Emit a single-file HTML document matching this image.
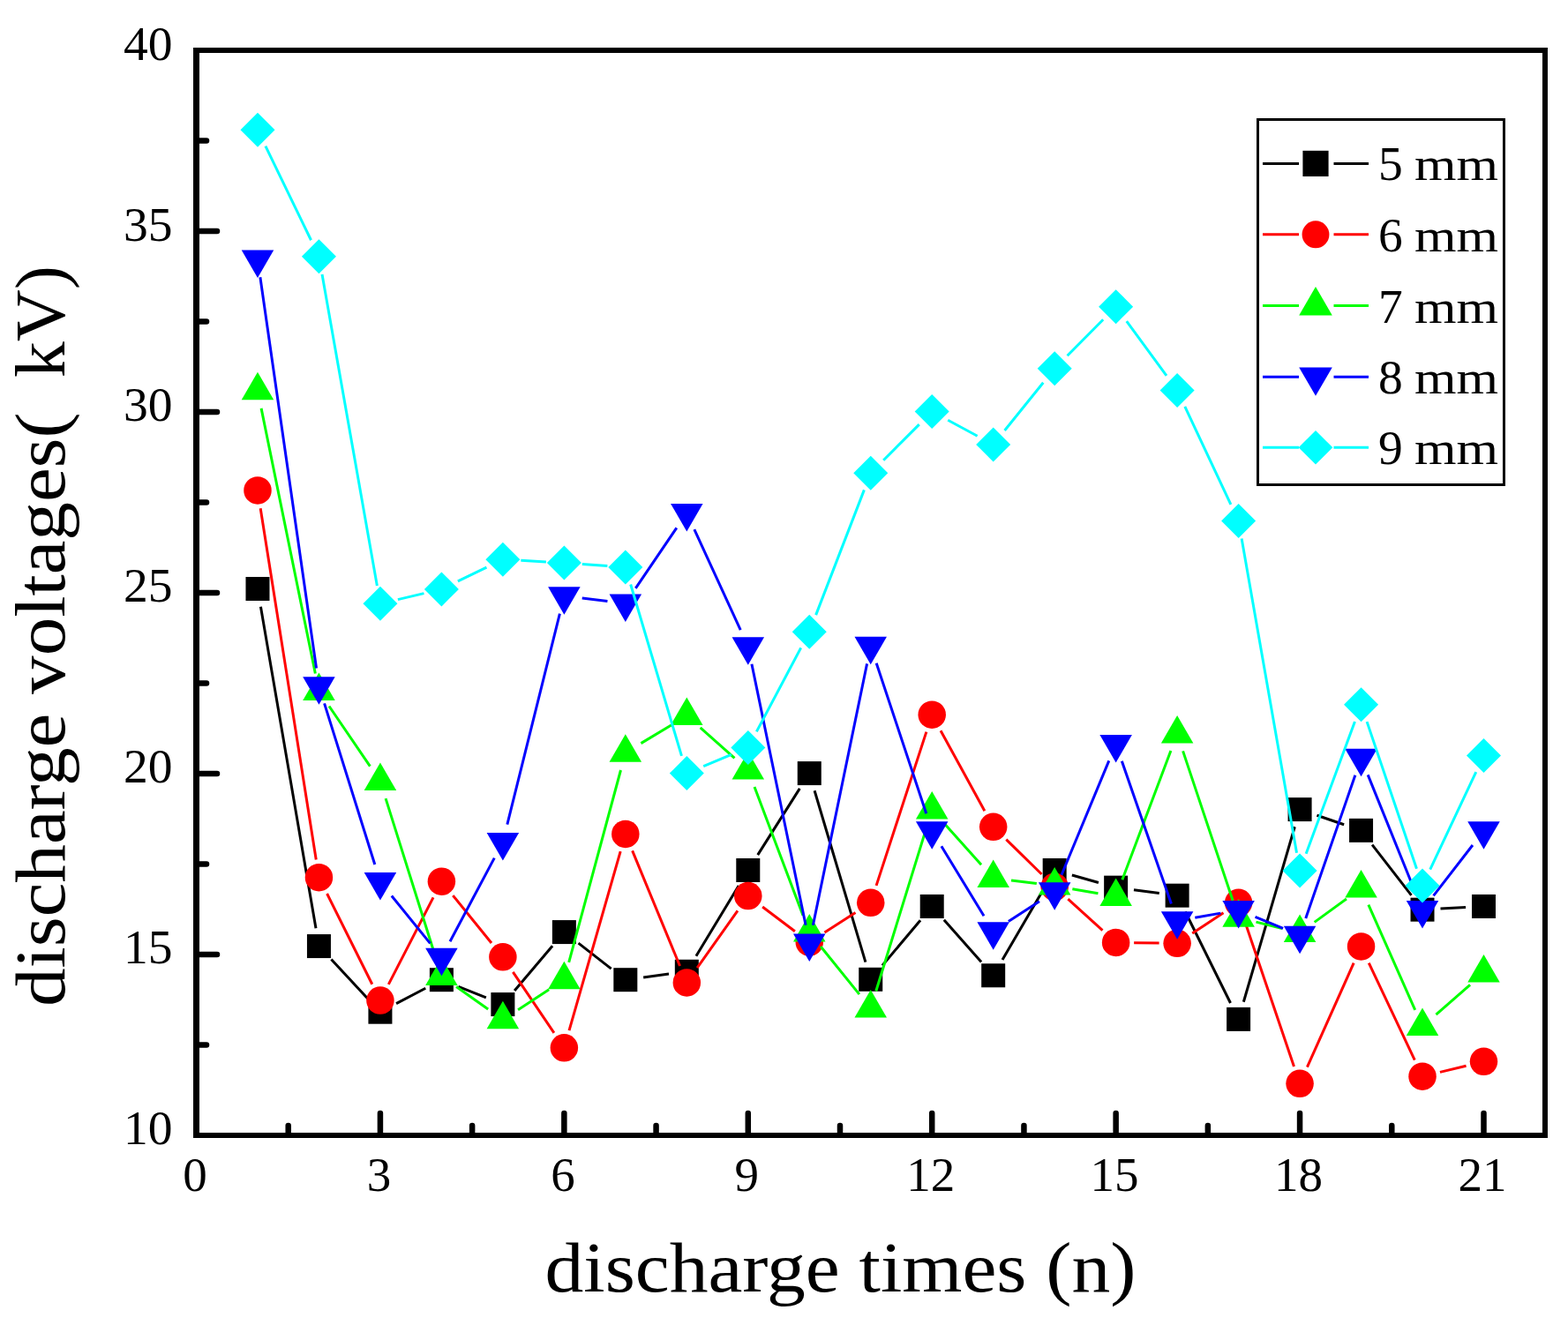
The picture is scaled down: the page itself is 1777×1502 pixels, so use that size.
<!DOCTYPE html>
<html><head><meta charset="utf-8"><title>discharge voltages</title>
<style>html,body{margin:0;padding:0;background:#fff;} svg{display:block;}</style>
</head><body>
<svg width="1777" height="1502" viewBox="0 0 1777 1502">
<rect width="1777" height="1502" fill="#fff"/>
<path d="M295.44,687.69L357.99,1052.37M375.42,1087.57L416.96,1132.19M449.08,1137.66L482.26,1120.23M519.43,1118.33L550.86,1130.95M583.13,1122.94L626.11,1072.22M655.53,1069.18L692.66,1098.10M729.15,1107.94L758.00,1104.03M788.92,1083.73L837.17,1004.01M858.74,969.14L906.31,893.92M923.10,896.24L980.90,1090.64M999.91,1094.58L1043.04,1043.18M1069.82,1042.80L1112.09,1090.45M1136.01,1088.06L1184.85,1004.19M1214.89,992.06L1244.92,1000.56M1284.97,1008.79L1313.79,1012.53M1343.22,1033.54L1394.49,1137.02M1409.34,1135.71L1467.32,937.27M1492.47,924.23L1523.15,934.73M1555.09,957.58L1599.48,1014.95M1632.49,1030.07L1661.03,1028.56" stroke="#000000" stroke-width="3.0" fill="none"/>
<rect x="278.48" y="653.99" width="27.00" height="27.00" fill="#000000"/>
<rect x="347.95" y="1059.07" width="27.00" height="27.00" fill="#000000"/>
<rect x="417.43" y="1133.69" width="27.00" height="27.00" fill="#000000"/>
<rect x="486.90" y="1097.20" width="27.00" height="27.00" fill="#000000"/>
<rect x="556.38" y="1125.08" width="27.00" height="27.00" fill="#000000"/>
<rect x="625.86" y="1043.08" width="27.00" height="27.00" fill="#000000"/>
<rect x="695.33" y="1097.20" width="27.00" height="27.00" fill="#000000"/>
<rect x="764.81" y="1087.77" width="27.00" height="27.00" fill="#000000"/>
<rect x="834.29" y="972.97" width="27.00" height="27.00" fill="#000000"/>
<rect x="903.76" y="863.09" width="27.00" height="27.00" fill="#000000"/>
<rect x="973.24" y="1096.79" width="27.00" height="27.00" fill="#000000"/>
<rect x="1042.71" y="1013.97" width="27.00" height="27.00" fill="#000000"/>
<rect x="1112.19" y="1092.28" width="27.00" height="27.00" fill="#000000"/>
<rect x="1181.67" y="972.97" width="27.00" height="27.00" fill="#000000"/>
<rect x="1251.14" y="992.65" width="27.00" height="27.00" fill="#000000"/>
<rect x="1320.62" y="1001.67" width="27.00" height="27.00" fill="#000000"/>
<rect x="1390.10" y="1141.89" width="27.00" height="27.00" fill="#000000"/>
<rect x="1459.57" y="904.09" width="27.00" height="27.00" fill="#000000"/>
<rect x="1529.05" y="927.87" width="27.00" height="27.00" fill="#000000"/>
<rect x="1598.52" y="1017.66" width="27.00" height="27.00" fill="#000000"/>
<rect x="1668.00" y="1013.97" width="27.00" height="27.00" fill="#000000"/>
<path d="M295.18,576.22L358.25,974.42M370.60,1013.02L421.78,1115.72M440.32,1115.85L491.02,1017.40M513.32,1015.10L556.97,1068.95M581.35,1101.86L627.89,1170.79M645.01,1168.07L703.18,965.18M716.65,964.42L770.50,1095.03M790.13,1097.23L835.96,1032.33M864.14,1027.94L900.90,1055.70M934.50,1056.97L969.50,1034.46M993.09,1003.88L1049.86,829.66M1066.05,828.16L1115.86,919.28M1140.33,951.62L1180.52,990.98M1210.34,1019.12L1249.47,1054.68M1285.14,1068.71L1313.62,1069.05M1351.22,1057.99L1386.49,1034.67M1410.18,1042.79L1466.49,1208.95M1481.44,1209.66L1534.18,1091.69M1551.30,1091.52L1603.27,1201.63M1631.95,1215.35L1661.57,1208.18" stroke="#ff0000" stroke-width="3.0" fill="none"/>
<circle cx="291.98" cy="555.97" r="15.75" fill="#ff0000"/>
<circle cx="361.45" cy="994.67" r="15.75" fill="#ff0000"/>
<circle cx="430.93" cy="1134.07" r="15.75" fill="#ff0000"/>
<circle cx="500.40" cy="999.18" r="15.75" fill="#ff0000"/>
<circle cx="569.88" cy="1084.87" r="15.75" fill="#ff0000"/>
<circle cx="639.36" cy="1187.78" r="15.75" fill="#ff0000"/>
<circle cx="708.83" cy="945.47" r="15.75" fill="#ff0000"/>
<circle cx="778.31" cy="1113.98" r="15.75" fill="#ff0000"/>
<circle cx="847.79" cy="1015.58" r="15.75" fill="#ff0000"/>
<circle cx="917.26" cy="1068.06" r="15.75" fill="#ff0000"/>
<circle cx="986.74" cy="1023.37" r="15.75" fill="#ff0000"/>
<circle cx="1056.21" cy="810.17" r="15.75" fill="#ff0000"/>
<circle cx="1125.69" cy="937.27" r="15.75" fill="#ff0000"/>
<circle cx="1195.17" cy="1005.33" r="15.75" fill="#ff0000"/>
<circle cx="1264.64" cy="1068.47" r="15.75" fill="#ff0000"/>
<circle cx="1334.12" cy="1069.29" r="15.75" fill="#ff0000"/>
<circle cx="1403.60" cy="1023.37" r="15.75" fill="#ff0000"/>
<circle cx="1473.07" cy="1228.37" r="15.75" fill="#ff0000"/>
<circle cx="1542.55" cy="1072.98" r="15.75" fill="#ff0000"/>
<circle cx="1612.02" cy="1220.17" r="15.75" fill="#ff0000"/>
<circle cx="1681.50" cy="1203.36" r="15.75" fill="#ff0000"/>
<path d="M296.07,462.90L357.36,763.43M372.99,800.47L419.39,868.66M437.08,905.17L494.26,1087.04M517.13,1118.45L553.15,1143.95M587.08,1144.64L622.16,1121.86M644.70,1090.91L703.49,873.01M726.40,842.65L760.75,821.97M793.66,824.99L832.44,859.31M855.02,892.08L910.02,1037.81M930.14,1072.94L973.86,1127.14M992.78,1123.50L1050.17,937.59M1069.90,933.26L1112.01,980.23M1146.03,998.01L1174.82,1001.58M1215.35,1007.67L1244.46,1012.83M1271.87,997.22L1326.89,851.08M1340.61,851.35L1397.11,1020.73M1423.49,1045.11L1453.17,1052.47M1489.66,1045.36L1525.96,1019.01M1550.86,1025.71L1603.71,1144.85M1627.46,1150.10L1666.06,1116.40" stroke="#00ff00" stroke-width="3.0" fill="none"/>
<polygon points="291.98,421.81 310.23,453.31 273.73,453.31" fill="#00ff00"/>
<polygon points="361.45,762.52 379.70,794.02 343.20,794.02" fill="#00ff00"/>
<polygon points="430.93,864.61 449.18,896.11 412.68,896.11" fill="#00ff00"/>
<polygon points="500.40,1085.60 518.65,1117.10 482.15,1117.10" fill="#00ff00"/>
<polygon points="569.88,1134.80 588.13,1166.30 551.63,1166.30" fill="#00ff00"/>
<polygon points="639.36,1089.70 657.61,1121.20 621.11,1121.20" fill="#00ff00"/>
<polygon points="708.83,832.22 727.08,863.72 690.58,863.72" fill="#00ff00"/>
<polygon points="778.31,790.40 796.56,821.90 760.06,821.90" fill="#00ff00"/>
<polygon points="847.79,851.90 866.04,883.40 829.54,883.40" fill="#00ff00"/>
<polygon points="917.26,1035.99 935.51,1067.49 899.01,1067.49" fill="#00ff00"/>
<polygon points="986.74,1122.09 1004.99,1153.59 968.49,1153.59" fill="#00ff00"/>
<polygon points="1056.21,897.00 1074.46,928.50 1037.96,928.50" fill="#00ff00"/>
<polygon points="1125.69,974.49 1143.94,1005.99 1107.44,1005.99" fill="#00ff00"/>
<polygon points="1195.17,983.10 1213.42,1014.60 1176.92,1014.60" fill="#00ff00"/>
<polygon points="1264.64,995.40 1282.89,1026.90 1246.39,1026.90" fill="#00ff00"/>
<polygon points="1334.12,810.90 1352.37,842.40 1315.87,842.40" fill="#00ff00"/>
<polygon points="1403.60,1019.18 1421.85,1050.68 1385.35,1050.68" fill="#00ff00"/>
<polygon points="1473.07,1036.40 1491.32,1067.90 1454.82,1067.90" fill="#00ff00"/>
<polygon points="1542.55,985.97 1560.80,1017.47 1524.30,1017.47" fill="#00ff00"/>
<polygon points="1612.02,1142.59 1630.27,1174.09 1593.77,1174.09" fill="#00ff00"/>
<polygon points="1681.50,1081.91 1699.75,1113.41 1663.25,1113.41" fill="#00ff00"/>
<path d="M294.89,314.27L358.54,757.49M367.58,797.34L424.80,980.03M443.84,1015.51L487.49,1069.36M510.02,1067.18L560.26,972.59M574.84,934.60L634.40,695.58M659.72,678.09L688.47,681.49M720.34,666.92L766.81,598.36M786.86,600.02L839.23,714.05M851.93,752.76L913.11,1048.80M921.41,1048.80L982.59,752.35M993.19,751.73L1049.76,922.32M1066.88,959.28L1115.02,1038.26M1142.89,1044.60L1177.97,1021.82M1203.03,991.73L1256.78,862.31M1271.36,862.75L1327.41,1024.50M1354.31,1040.30L1383.41,1035.14M1422.54,1039.40L1454.12,1052.44M1479.77,1040.90L1535.85,878.74M1550.22,878.38L1604.35,1012.56M1624.57,1015.36L1668.95,957.99" stroke="#0000ff" stroke-width="3.0" fill="none"/>
<polygon points="273.73,283.48 310.23,283.48 291.98,314.98" fill="#0000ff"/>
<polygon points="343.20,767.28 379.70,767.28 361.45,798.78" fill="#0000ff"/>
<polygon points="412.68,989.09 449.18,989.09 430.93,1020.59" fill="#0000ff"/>
<polygon points="482.15,1074.78 518.65,1074.78 500.40,1106.28" fill="#0000ff"/>
<polygon points="551.63,943.99 588.13,943.99 569.88,975.49" fill="#0000ff"/>
<polygon points="621.11,665.19 657.61,665.19 639.36,696.69" fill="#0000ff"/>
<polygon points="690.58,673.39 727.08,673.39 708.83,704.89" fill="#0000ff"/>
<polygon points="760.06,570.89 796.56,570.89 778.31,602.39" fill="#0000ff"/>
<polygon points="829.54,722.18 866.04,722.18 847.79,753.68" fill="#0000ff"/>
<polygon points="899.01,1058.38 935.51,1058.38 917.26,1089.88" fill="#0000ff"/>
<polygon points="968.49,721.77 1004.99,721.77 986.74,753.27" fill="#0000ff"/>
<polygon points="1037.96,931.28 1074.46,931.28 1056.21,962.78" fill="#0000ff"/>
<polygon points="1107.44,1045.26 1143.94,1045.26 1125.69,1076.76" fill="#0000ff"/>
<polygon points="1176.92,1000.16 1213.42,1000.16 1195.17,1031.66" fill="#0000ff"/>
<polygon points="1246.39,832.88 1282.89,832.88 1264.64,864.38" fill="#0000ff"/>
<polygon points="1315.87,1033.37 1352.37,1033.37 1334.12,1064.87" fill="#0000ff"/>
<polygon points="1385.35,1021.07 1421.85,1021.07 1403.60,1052.57" fill="#0000ff"/>
<polygon points="1454.82,1049.77 1491.32,1049.77 1473.07,1081.27" fill="#0000ff"/>
<polygon points="1524.30,848.87 1560.80,848.87 1542.55,880.37" fill="#0000ff"/>
<polygon points="1593.77,1021.07 1630.27,1021.07 1612.02,1052.57" fill="#0000ff"/>
<polygon points="1663.25,931.28 1699.75,931.28 1681.50,962.78" fill="#0000ff"/>
<path d="M300.91,165.65L352.52,272.25M365.02,310.89L427.37,664.11M450.88,679.59L480.45,672.61M518.86,658.97L551.43,643.21M590.35,635.37L618.89,636.88M659.81,639.42L688.38,641.44M714.68,662.54L772.47,856.94M797.22,868.67L828.88,855.40M857.38,829.36L907.67,734.40M924.64,697.16L979.36,555.41M1001.21,521.77L1041.74,481.11M1074.27,476.29L1107.63,494.20M1138.56,487.95L1182.29,433.75M1209.60,403.24L1250.21,362.25M1276.77,364.22L1321.99,425.87M1342.83,460.96L1394.88,571.85M1407.13,610.60L1469.53,966.69M1480.17,967.65L1535.45,817.92M1549.12,818.11L1605.46,984.68M1620.75,985.55L1672.77,875.05" stroke="#00ffff" stroke-width="3.0" fill="none"/>
<polygon points="291.98,127.70 311.48,147.20 291.98,166.70 272.48,147.20" fill="#00ffff"/>
<polygon points="361.45,271.20 380.95,290.70 361.45,310.20 341.95,290.70" fill="#00ffff"/>
<polygon points="430.93,664.80 450.43,684.30 430.93,703.80 411.43,684.30" fill="#00ffff"/>
<polygon points="500.40,648.40 519.90,667.90 500.40,687.40 480.90,667.90" fill="#00ffff"/>
<polygon points="569.88,614.78 589.38,634.28 569.88,653.78 550.38,634.28" fill="#00ffff"/>
<polygon points="639.36,618.47 658.86,637.97 639.36,657.47 619.86,637.97" fill="#00ffff"/>
<polygon points="708.83,623.39 728.33,642.89 708.83,662.39 689.33,642.89" fill="#00ffff"/>
<polygon points="778.31,857.09 797.81,876.59 778.31,896.09 758.81,876.59" fill="#00ffff"/>
<polygon points="847.79,827.98 867.29,847.48 847.79,866.98 828.29,847.48" fill="#00ffff"/>
<polygon points="917.26,696.78 936.76,716.28 917.26,735.78 897.76,716.28" fill="#00ffff"/>
<polygon points="986.74,516.79 1006.24,536.29 986.74,555.79 967.24,536.29" fill="#00ffff"/>
<polygon points="1056.21,447.09 1075.71,466.59 1056.21,486.09 1036.71,466.59" fill="#00ffff"/>
<polygon points="1125.69,484.40 1145.19,503.90 1125.69,523.40 1106.19,503.90" fill="#00ffff"/>
<polygon points="1195.17,398.30 1214.67,417.80 1195.17,437.30 1175.67,417.80" fill="#00ffff"/>
<polygon points="1264.64,328.19 1284.14,347.69 1264.64,367.19 1245.14,347.69" fill="#00ffff"/>
<polygon points="1334.12,422.90 1353.62,442.40 1334.12,461.90 1314.62,442.40" fill="#00ffff"/>
<polygon points="1403.60,570.91 1423.10,590.41 1403.60,609.91 1384.10,590.41" fill="#00ffff"/>
<polygon points="1473.07,967.38 1492.57,986.88 1473.07,1006.38 1453.57,986.88" fill="#00ffff"/>
<polygon points="1542.55,779.19 1562.05,798.69 1542.55,818.19 1523.05,798.69" fill="#00ffff"/>
<polygon points="1612.02,984.60 1631.52,1004.10 1612.02,1023.60 1592.52,1004.10" fill="#00ffff"/>
<polygon points="1681.50,837.00 1701.00,856.50 1681.50,876.00 1662.00,856.50" fill="#00ffff"/>
<g fill="#000">
<rect x="219" y="54" width="7" height="1236"/>
<rect x="1748" y="54" width="6" height="1236"/>
<rect x="219" y="54" width="1535" height="6"/>
<rect x="219" y="1284" width="1535" height="6"/>
</g>
<g stroke="#000" stroke-width="6.5" stroke-linecap="round">
<line x1="430.93" y1="1284" x2="430.93" y2="1262"/>
<line x1="639.36" y1="1284" x2="639.36" y2="1262"/>
<line x1="847.79" y1="1284" x2="847.79" y2="1262"/>
<line x1="1056.21" y1="1284" x2="1056.21" y2="1262"/>
<line x1="1264.64" y1="1284" x2="1264.64" y2="1262"/>
<line x1="1473.07" y1="1284" x2="1473.07" y2="1262"/>
<line x1="1681.50" y1="1284" x2="1681.50" y2="1262"/>
<line x1="326.71" y1="1284" x2="326.71" y2="1276"/>
<line x1="535.14" y1="1284" x2="535.14" y2="1276"/>
<line x1="743.57" y1="1284" x2="743.57" y2="1276"/>
<line x1="952.00" y1="1284" x2="952.00" y2="1276"/>
<line x1="1160.43" y1="1284" x2="1160.43" y2="1276"/>
<line x1="1368.86" y1="1284" x2="1368.86" y2="1276"/>
<line x1="1577.29" y1="1284" x2="1577.29" y2="1276"/>
<line x1="226" y1="1082.00" x2="246" y2="1082.00"/>
<line x1="226" y1="877.00" x2="246" y2="877.00"/>
<line x1="226" y1="672.00" x2="246" y2="672.00"/>
<line x1="226" y1="467.00" x2="246" y2="467.00"/>
<line x1="226" y1="262.00" x2="246" y2="262.00"/>
<line x1="226" y1="1184.50" x2="234" y2="1184.50"/>
<line x1="226" y1="979.50" x2="234" y2="979.50"/>
<line x1="226" y1="774.50" x2="234" y2="774.50"/>
<line x1="226" y1="569.50" x2="234" y2="569.50"/>
<line x1="226" y1="364.50" x2="234" y2="364.50"/>
<line x1="226" y1="159.50" x2="234" y2="159.50"/>
</g>
<text x="195.6" y="1297.0" text-anchor="end" font-size="55.5" font-family="'Liberation Serif', serif">10</text>
<text x="195.6" y="1092.0" text-anchor="end" font-size="55.5" font-family="'Liberation Serif', serif">15</text>
<text x="195.6" y="887.0" text-anchor="end" font-size="55.5" font-family="'Liberation Serif', serif">20</text>
<text x="195.6" y="682.0" text-anchor="end" font-size="55.5" font-family="'Liberation Serif', serif">25</text>
<text x="195.6" y="477.3" text-anchor="end" font-size="55.5" font-family="'Liberation Serif', serif">30</text>
<text x="195.6" y="273.0" text-anchor="end" font-size="55.5" font-family="'Liberation Serif', serif">35</text>
<text x="195.6" y="68.2" text-anchor="end" font-size="55.5" font-family="'Liberation Serif', serif">40</text>
<text x="221.0" y="1350.3" text-anchor="middle" font-size="55" font-family="'Liberation Serif', serif">0</text>
<text x="429.4" y="1350.3" text-anchor="middle" font-size="55" font-family="'Liberation Serif', serif">3</text>
<text x="637.9" y="1350.3" text-anchor="middle" font-size="55" font-family="'Liberation Serif', serif">6</text>
<text x="846.3" y="1350.3" text-anchor="middle" font-size="55" font-family="'Liberation Serif', serif">9</text>
<text x="1054.7" y="1350.3" text-anchor="middle" font-size="55" font-family="'Liberation Serif', serif">12</text>
<text x="1263.1" y="1350.3" text-anchor="middle" font-size="55" font-family="'Liberation Serif', serif">15</text>
<text x="1471.6" y="1350.3" text-anchor="middle" font-size="55" font-family="'Liberation Serif', serif">18</text>
<text x="1680.0" y="1350.3" text-anchor="middle" font-size="55" font-family="'Liberation Serif', serif">21</text>
<text x="617.5" y="1464.2" font-size="80" font-family="'Liberation Serif', serif" textLength="670" lengthAdjust="spacingAndGlyphs">discharge times (n)</text>
<text transform="rotate(-90)" x="-1141" y="72.8" font-size="80" font-family="'Liberation Serif', serif" textLength="673.5" lengthAdjust="spacingAndGlyphs">discharge voltages(</text>
<text transform="rotate(-90)" x="-428" y="72.8" font-size="80" font-family="'Liberation Serif', serif" textLength="127" lengthAdjust="spacingAndGlyphs">kV)</text>
<rect x="1425.5" y="135.5" width="279" height="414" fill="none" stroke="#000" stroke-width="3"/>
<path d="M1431,185.4H1472M1511.5,185.4H1551" stroke="#000000" stroke-width="3"/>
<rect x="1476.42" y="170.82" width="29.16" height="29.16" fill="#000000"/>
<text x="1562" y="204.4" font-size="55.5" font-family="'Liberation Serif', serif">5</text>
<text x="1603" y="204.4" font-size="53" font-family="'Liberation Serif', serif" textLength="95" lengthAdjust="spacingAndGlyphs">mm</text>
<path d="M1431,265.8H1472M1511.5,265.8H1551" stroke="#ff0000" stroke-width="3"/>
<circle cx="1491.00" cy="265.80" r="15.44" fill="#ff0000"/>
<text x="1562" y="284.8" font-size="55.5" font-family="'Liberation Serif', serif">6</text>
<text x="1603" y="284.8" font-size="53" font-family="'Liberation Serif', serif" textLength="95" lengthAdjust="spacingAndGlyphs">mm</text>
<path d="M1431,346.6H1472M1511.5,346.6H1551" stroke="#00ff00" stroke-width="3"/>
<polygon points="1491.00,324.97 1509.80,357.42 1472.20,357.42" fill="#00ff00"/>
<text x="1562" y="365.6" font-size="55.5" font-family="'Liberation Serif', serif">7</text>
<text x="1603" y="365.6" font-size="53" font-family="'Liberation Serif', serif" textLength="95" lengthAdjust="spacingAndGlyphs">mm</text>
<path d="M1431,427.2H1472M1511.5,427.2H1551" stroke="#0000ff" stroke-width="3"/>
<polygon points="1472.20,416.38 1509.80,416.38 1491.00,448.83" fill="#0000ff"/>
<text x="1562" y="446.2" font-size="55.5" font-family="'Liberation Serif', serif">8</text>
<text x="1603" y="446.2" font-size="53" font-family="'Liberation Serif', serif" textLength="95" lengthAdjust="spacingAndGlyphs">mm</text>
<path d="M1431,507.3H1472M1511.5,507.3H1551" stroke="#00ffff" stroke-width="3"/>
<polygon points="1491.00,488.00 1510.31,507.30 1491.00,526.61 1471.69,507.30" fill="#00ffff"/>
<text x="1562" y="526.3" font-size="55.5" font-family="'Liberation Serif', serif">9</text>
<text x="1603" y="526.3" font-size="53" font-family="'Liberation Serif', serif" textLength="95" lengthAdjust="spacingAndGlyphs">mm</text>
</svg>
</body></html>
